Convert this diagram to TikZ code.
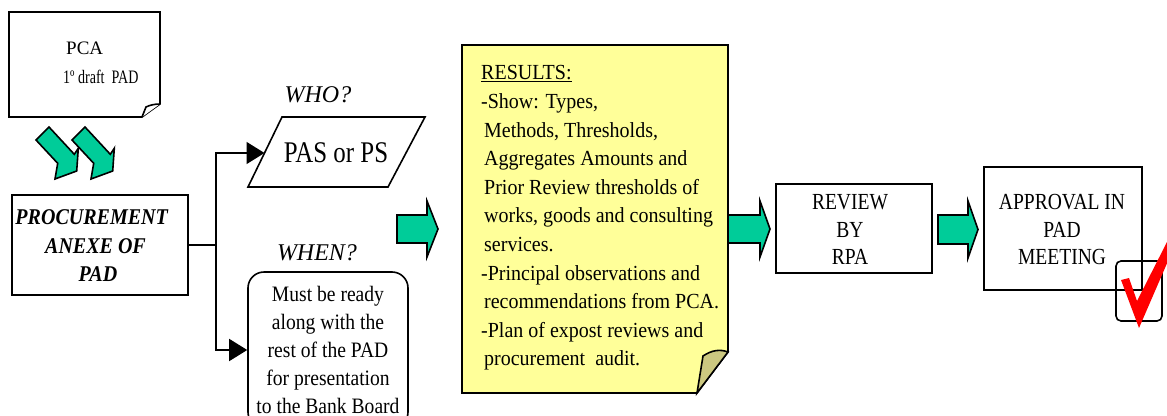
\documentclass[tikz,border=0pt]{standalone}
\usepackage{fontspec}
\setmainfont{Liberation Serif}
\newfontfamily\condA{Liberation Serif}[FakeStretch=0.85]
\newfontfamily\condB{Liberation Serif}[FakeStretch=0.83]
\newfontfamily\condC{Liberation Serif}[FakeStretch=0.74]
\newfontfamily\fA{Liberation Serif}[FakeStretch=0.93]
\newfontfamily\fB{Liberation Serif}[FakeStretch=0.89]
\usetikzlibrary{arrows.meta}
\definecolor{grn}{RGB}{0,204,153}
\definecolor{notey}{RGB}{255,255,153}
\definecolor{flapc}{RGB}{204,200,128}
\definecolor{chk}{RGB}{255,0,0}
\begin{document}
\begin{tikzpicture}[x=1pt,y=-1pt,line join=miter,
  box/.style={draw=black,line width=1.6pt},
  garrow/.style={draw=black,line width=1.6pt,fill=grn},
  conn/.style={line width=1.6pt},
  tip/.style={-{Triangle[length=18pt,width=22pt]}},
  txt/.style={inner sep=0pt,align=center},
  rtxt/.style={txt,font=\condA\fontsize{23}{27.5}\selectfont},
]
\useasboundingbox (0,0) rectangle (1167,415);
\clip (0,0) rectangle (1167,415);

% PCA document
\draw[box,fill=white] (9,12) -- (160,12) -- (160,104) -- (142,117) -- (9,117) -- cycle;
\draw[box,fill=white] (142,117) -- (146,107) .. controls (150,105) and (155,104) .. (160,104);
\node[inner sep=0pt,align=left,anchor=west,font=\fontsize{19}{29}\selectfont] (pca) at (63,62.5)
  {\hspace*{3pt}PCA\\{\condC 1º draft\ \ PAD}};

% double chevron
\draw[garrow] (49,127) -- (36,140) -- (57.7,163.3) -- (55,179) -- (76.7,171) -- (78.3,148.3) -- (74.3,154.3) -- cycle;
\begin{scope}[xshift=36]
\draw[garrow] (49,127) -- (36,140) -- (57.7,163.3) -- (55,179) -- (76.7,171) -- (78.3,148.3) -- (74.3,154.3) -- cycle;
\end{scope}

% procurement annex
\node[box,minimum width=176,minimum height=100,inner sep=0pt] (proc) at (100,245) {};
\node[txt,font=\fB\bfseries\itshape\fontsize{22.5}{28.5}\selectfont] (proct) at (95,246)
  {PROCUREMENT\hspace*{6.6pt}\\\hspace*{1pt}ANEXE OF\\\hspace*{6pt}PAD};

% who
\node[txt,font=\itshape\fontsize{24}{24}\selectfont] (wholab) at (318,95) {WHO?};
\draw[box] (282,117) -- (425,117) -- (388,187) -- (248,187) -- cycle;
\node[txt,font=\condB\fontsize{30}{30}\selectfont] (who) at (336,153) {PAS or PS};
\coordinate (whoin) at (264.5,153);

% when
\node[txt,font=\itshape\fontsize{24}{24}\selectfont] (whenlab) at (317,253) {WHEN?};
\node[box,rounded corners=16pt,minimum width=160,minimum height=156,inner sep=0pt,
      align=center,font=\fB\fontsize{22}{28}\selectfont] (when) at (328,350)
      {Must be ready\\along with the\\rest of the PAD\\for presentation\\to the Bank Board};

% connectors
\coordinate (br) at (216,245);
\draw[conn] (proc.east) -- (br);
\draw[conn,tip] (br) |- (whoin);
\draw[conn,tip] (br) |- (when.west);

% green arrow 1
\draw[garrow] (397,215) -- (427,215) -- (427,201) -- (438,229) -- (427,257) -- (427,243) -- (397,243) -- cycle;

% results note
\draw[box,fill=notey] (462,45) -- (728,45) -- (728,352) -- (697,393) -- (462,393) -- cycle;
\draw[box,fill=flapc] (697,393) -- (703,356) .. controls (712,350) and (720,349) .. (728,352) -- cycle;
\node[inner sep=0pt,align=left,anchor=west,font=\fA\fontsize{21.5}{28.6}\selectfont] (res) at (481,218)
 {\underline{RESULTS:}\\
  -Show: Types,\\
  \hspace*{3pt}Methods, Thresholds,\\
  \hspace*{3pt}Aggregates Amounts and\\
  \hspace*{3pt}Prior Review thresholds of\\
  \hspace*{3pt}works, goods and consulting\\
  \hspace*{3pt}services.\\
  -Principal observations and\\
  \hspace*{3pt}recommendations from PCA.\\
  -Plan of expost reviews and\\
  \hspace*{3pt}procurement\ \ audit.};

% green arrow 2
\draw[garrow] (728,215) -- (760,215) -- (760,201) -- (770,229) -- (760,257) -- (760,243) -- (728,243) -- cycle;

% review
\node[box,minimum width=156,minimum height=89,inner sep=0pt] (rev) at (854,228.5) {};
\node[rtxt] (revt) at (850,229.5) {REVIEW\\BY\\RPA};

% green arrow 3
\draw[garrow] (938,215) -- (968,215) -- (968,201) -- (978,229.5) -- (968,258) -- (968,244) -- (938,244) -- cycle;

% approval
\node[box,minimum width=158,minimum height=123,inner sep=0pt] (appr) at (1063,228.5) {};
\node[rtxt] (apprt) at (1062,229.5) {APPROVAL IN\\PAD\\MEETING};

% check box and tick
\draw[box,rounded corners=5pt] (1116,261) rectangle (1162,321);
\fill[chk] (1121,280) -- (1129,278) -- (1137,301) -- (1168,240) -- (1168,261) -- (1139,328) -- cycle;
\end{tikzpicture}
\end{document}
